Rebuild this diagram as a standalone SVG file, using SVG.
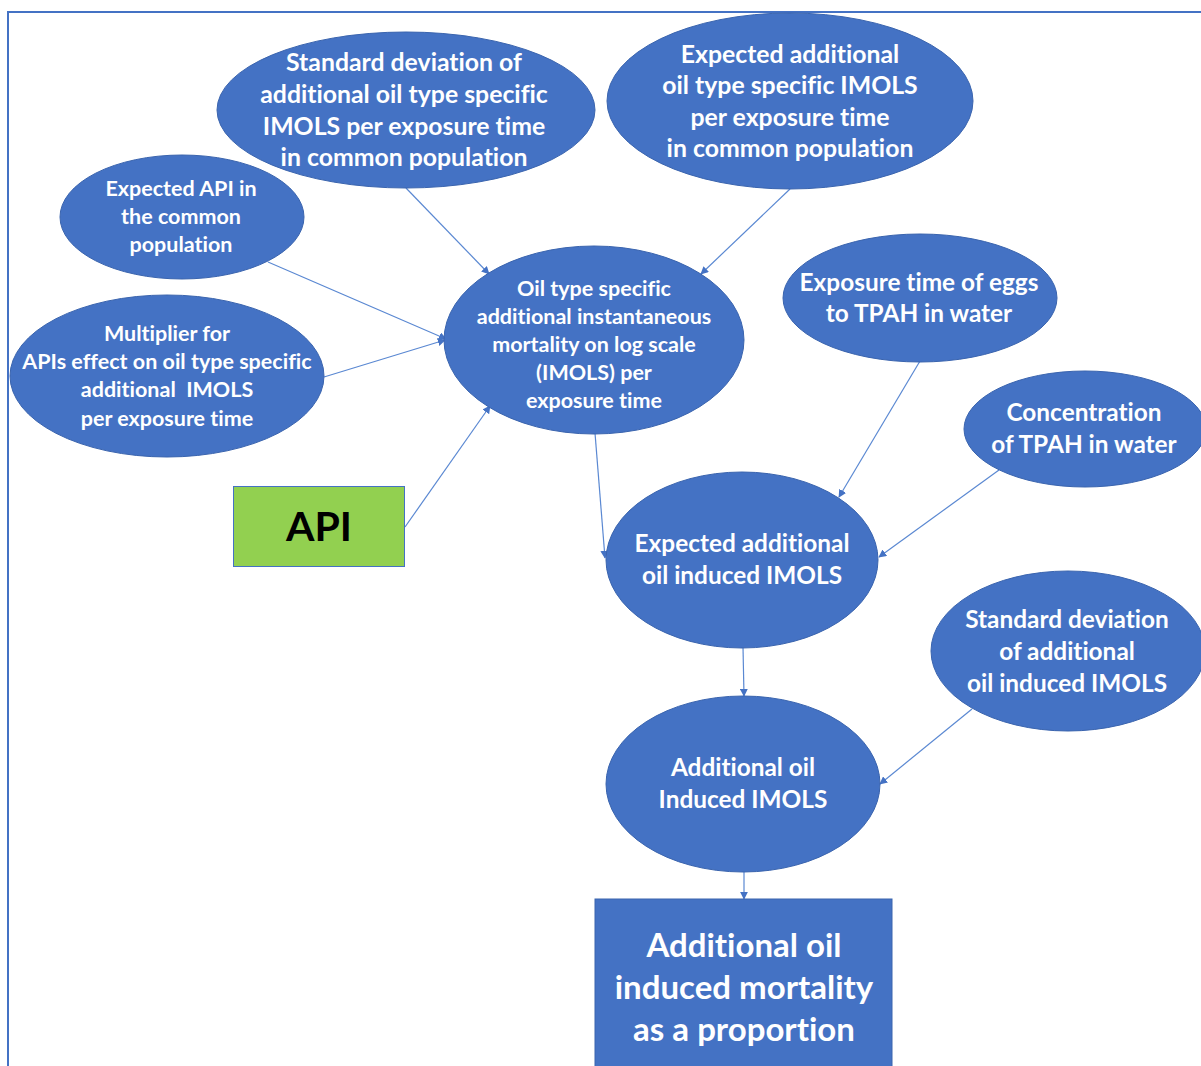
<svg xmlns="http://www.w3.org/2000/svg" width="1201" height="1066" viewBox="0 0 1201 1066">
  <style>
    .node { fill: #4472C4; stroke: #3A64AE; stroke-width: 1; }
    .lbl { font-family: Lato, "Open Sans", "Liberation Sans", sans-serif; font-weight: 700; fill: #FFFFFF; text-anchor: middle; font-variant-ligatures: none; }
    .s23 { font-size: 24.8px; }
    .s22 { font-size: 24.4px; }
    .s20 { font-size: 21.5px; }
    .s30 { font-size: 33px; }
    .edge { fill: none; stroke: #5A88D2; stroke-width: 1.2; marker-end: url(#arrow); }
  </style>
  <defs>
    <marker id="arrow" viewBox="0 0 10 10" refX="9" refY="5" markerWidth="8" markerHeight="8" markerUnits="userSpaceOnUse" orient="auto">
      <path d="M0,0 L10,5 L0,10 z" fill="#4472C4"/>
    </marker>
  </defs>

  <rect width="1201" height="1066" fill="#FFFFFF"/>
  <!-- outer frame -->
  <path d="M8,1066 V12 H1201" fill="none" stroke="#4472C4" stroke-width="2"/>

  <g id="connectors">
    <line class="edge" x1="406" y1="188" x2="489" y2="274"/>
    <line class="edge" x1="790" y1="189" x2="701" y2="274"/>
    <line class="edge" x1="268" y1="262" x2="446" y2="339"/>
    <line class="edge" x1="324" y1="377" x2="445" y2="340"/>
    <line class="edge" x1="405" y1="527" x2="490" y2="406"/>
    <line class="edge" x1="595" y1="433" x2="605" y2="558"/>
    <line class="edge" x1="920" y1="361" x2="839" y2="497"/>
    <line class="edge" x1="999" y1="470" x2="879" y2="557"/>
    <line class="edge" x1="743" y1="647" x2="744" y2="696"/>
    <line class="edge" x1="972" y1="709" x2="880" y2="784"/>
    <line class="edge" x1="744" y1="871" x2="744" y2="899"/>
  </g>

  <g id="sd-common">
    <ellipse class="node" cx="406" cy="110" rx="189" ry="78"/>
    <text class="lbl s23" x="404" y="71">Standard deviation of</text>
    <text class="lbl s23" x="404" y="103">additional oil type specific</text>
    <text class="lbl s23" x="404" y="135">IMOLS per exposure time</text>
    <text class="lbl s23" x="404" y="166">in common population</text>
  </g>

  <g id="expected-common">
    <ellipse class="node" cx="790" cy="101" rx="183" ry="88"/>
    <text class="lbl s23" x="790" y="63">Expected additional</text>
    <text class="lbl s23" x="790" y="94">oil type specific IMOLS</text>
    <text class="lbl s23" x="790" y="126">per exposure time</text>
    <text class="lbl s23" x="790" y="157">in common population</text>
  </g>

  <g id="expected-api">
    <ellipse class="node" cx="182" cy="217" rx="122" ry="62"/>
    <text class="lbl s20" x="181" y="196">Expected API in</text>
    <text class="lbl s20" x="181" y="224">the common</text>
    <text class="lbl s20" x="181" y="252">population</text>
  </g>

  <g id="multiplier">
    <ellipse class="node" cx="167" cy="376" rx="157" ry="81"/>
    <text class="lbl s20" x="167" y="341">Multiplier for</text>
    <text class="lbl s20" x="167" y="369">APIs effect on oil type specific</text>
    <text class="lbl s20" x="167" y="397">additional&#160; IMOLS</text>
    <text class="lbl s20" x="167" y="426">per exposure time</text>
  </g>

  <g id="oil-type-imols">
    <ellipse class="node" cx="594" cy="340" rx="150" ry="94"/>
    <text class="lbl s20" x="594" y="296">Oil type specific</text>
    <text class="lbl s20" x="594" y="324">additional instantaneous</text>
    <text class="lbl s20" x="594" y="352">mortality on log scale</text>
    <text class="lbl s20" x="594" y="380">(IMOLS) per</text>
    <text class="lbl s20" x="594" y="408">exposure time</text>
  </g>

  <g id="exposure-time">
    <ellipse class="node" cx="920" cy="298" rx="137" ry="64"/>
    <text class="lbl s22" x="919" y="291">Exposure time of eggs</text>
    <text class="lbl s22" x="919" y="322">to TPAH in water</text>
  </g>

  <g id="concentration">
    <ellipse class="node" cx="1085" cy="429" rx="121" ry="58"/>
    <text class="lbl s22" x="1084" y="421">Concentration</text>
    <text class="lbl s22" x="1084" y="453">of TPAH in water</text>
  </g>

  <g id="expected-oil-imols">
    <ellipse class="node" cx="742" cy="560" rx="136" ry="88"/>
    <text class="lbl s22" x="742" y="552">Expected additional</text>
    <text class="lbl s22" x="742" y="584">oil induced IMOLS</text>
  </g>

  <g id="sd-oil-imols">
    <ellipse class="node" cx="1068" cy="651" rx="137" ry="80"/>
    <text class="lbl s22" x="1067" y="628">Standard deviation</text>
    <text class="lbl s22" x="1067" y="660">of additional</text>
    <text class="lbl s22" x="1067" y="692">oil induced IMOLS</text>
  </g>

  <g id="oil-imols">
    <ellipse class="node" cx="743" cy="784" rx="137" ry="88"/>
    <text class="lbl s22" x="743" y="776">Additional oil</text>
    <text class="lbl s22" x="743" y="808">Induced IMOLS</text>
  </g>

  <g id="api">
    <rect x="233.5" y="486.5" width="171" height="80" fill="#92D050" stroke="#4472C4" stroke-width="1"/>
    <text x="319" y="541" font-family="Lato, 'Open Sans', 'Liberation Sans', sans-serif" font-weight="700" font-size="41" fill="#000000" text-anchor="middle">API</text>
  </g>

  <g id="mortality-proportion">
    <rect x="595" y="899" width="297" height="180" fill="#4472C4" stroke="#3A64AE" stroke-width="1"/>
    <text class="lbl s30" x="744" y="957">Additional oil</text>
    <text class="lbl s30" x="744" y="999">induced mortality</text>
    <text class="lbl s30" x="744" y="1041">as a proportion</text>
  </g>
</svg>
